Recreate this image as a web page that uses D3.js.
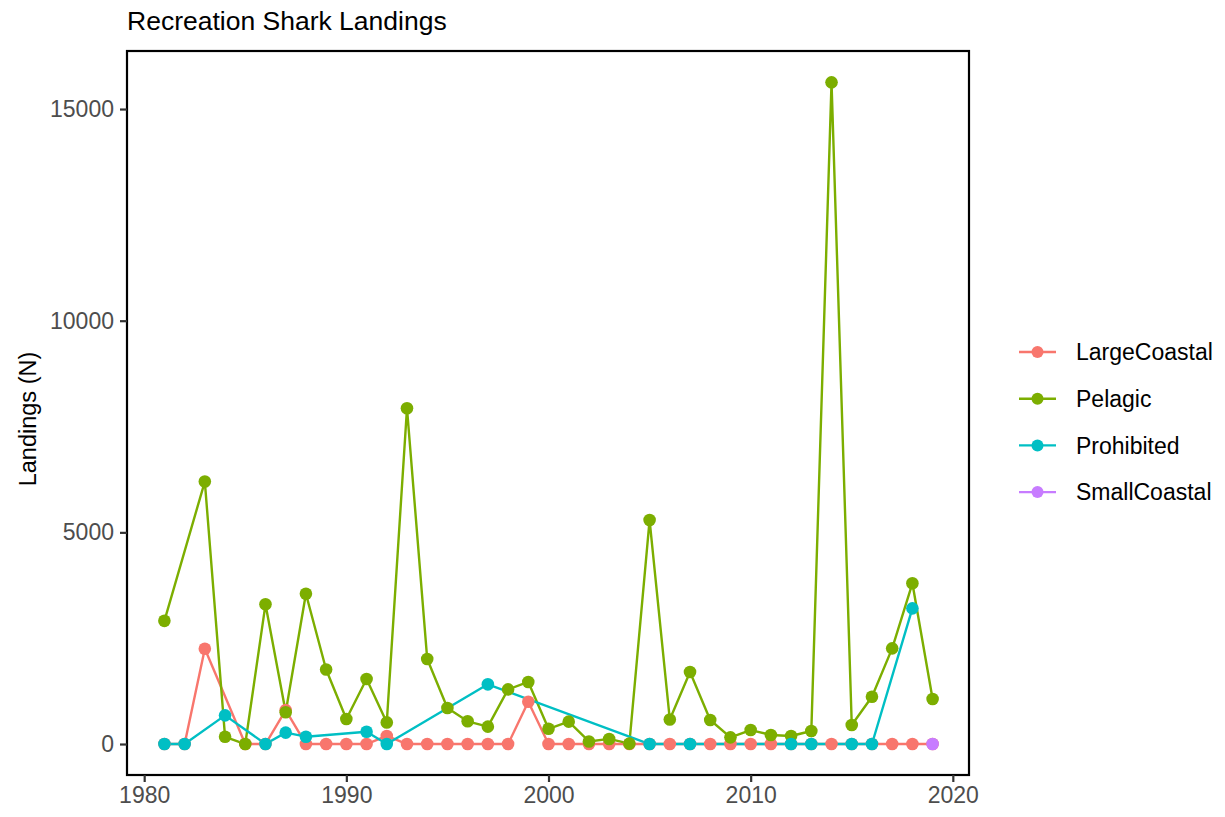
<!DOCTYPE html>
<html>
<head>
<meta charset="utf-8">
<script src="https://cdn.jsdelivr.net/npm/d3@7"></script>
<style>
  html, body { margin: 0; padding: 0; background: #ffffff; }
  svg { display: block; font-family: "Liberation Sans", Arial, Helvetica, sans-serif; }
</style>
</head>
<body>
<svg id="chart" width="1225" height="817"></svg>
<script>
// ---- Data ----
const seriesNames = ["LargeCoastal", "Pelagic", "Prohibited", "SmallCoastal"];
const seriesColors = ["#F8766D", "#7CAE00", "#00BFC4", "#C77CFF"];

const largeCoastalYears = [1981,1982,1983,1985,1986,1987,1988,1989,1990,1991,1992,1993,1994,1995,1996,1997,1998,1999,2000,2001,2002,2003,2004,2005,2006,2007,2008,2009,2010,2011,2012,2013,2014,2015,2016,2017,2018,2019];
const largeCoastalValues = [0,0,2250,0,0,800,0,0,0,0,190,0,0,0,0,0,0,1000,0,0,0,0,0,0,0,0,0,0,0,0,0,0,0,0,0,0,0,0];

const pelagicYears = [1981,1983,1984,1985,1986,1987,1988,1989,1990,1991,1992,1993,1994,1995,1996,1997,1998,1999,2000,2001,2002,2003,2004,2005,2006,2007,2008,2009,2010,2011,2012,2013,2014,2015,2016,2017,2018,2019];
const pelagicValues = [2910,6200,170,0,3300,750,3550,1760,590,1535,510,7930,2010,850,536,410,1290,1465,360,528,60,120,10,5290,580,1700,567,157,330,213,189,307,15630,449,1118,2260,3796,1063];

const prohibitedYears = [1981,1982,1984,1986,1987,1988,1991,1992,1997,2005,2007,2012,2013,2015,2016,2018];
const prohibitedValues = [0,0,677,0,268,173,291,0,1410,0,0,0,0,0,0,3205];

const smallCoastalYears = [2019];
const smallCoastalValues = [0];

const xTicks = [1980, 1990, 2000, 2010, 2020];
const yTicks = [0, 5000, 10000, 15000];

const titleText = "Recreation Shark Landings";
const yLabel = "Landings (N)";

// ---- Build series ----
const series = [
  {name: seriesNames[0], color: seriesColors[0], pts: largeCoastalYears.map((y,i)=>({x:y, v:largeCoastalValues[i]}))},
  {name: seriesNames[1], color: seriesColors[1], pts: pelagicYears.map((y,i)=>({x:y, v:pelagicValues[i]}))},
  {name: seriesNames[2], color: seriesColors[2], pts: prohibitedYears.map((y,i)=>({x:y, v:prohibitedValues[i]}))},
  {name: seriesNames[3], color: seriesColors[3], pts: smallCoastalYears.map((y,i)=>({x:y, v:smallCoastalValues[i]}))}
];

// ---- Layout ----
const panel = {left: 127, right: 969, top: 51, bottom: 775};
const svg = d3.select("#chart");
svg.append("rect").attr("width", 1225).attr("height", 817).attr("fill", "#ffffff");

const x = d3.scaleLinear().domain([1979.15, 2020.8]).range([panel.left, panel.right]);
const y = d3.scaleLinear().domain([-732, 16371]).range([panel.bottom, panel.top]);

svg.append("clipPath").attr("id", "clip").append("rect")
  .attr("x", panel.left).attr("y", panel.top)
  .attr("width", panel.right - panel.left).attr("height", panel.bottom - panel.top);

const plot = svg.append("g").attr("clip-path", "url(#clip)");

const line = d3.line().x(d => x(d.x)).y(d => y(d.v));

// lines first
series.forEach(s => {
  if (s.pts.length > 1) {
    plot.append("path").datum(s.pts)
      .attr("d", line)
      .attr("fill", "none")
      .attr("stroke", s.color)
      .attr("stroke-width", 2.4)
      .attr("stroke-linejoin", "round")
      .attr("stroke-linecap", "butt");
  }
});
// points
series.forEach(s => {
  plot.selectAll(null).data(s.pts).enter().append("circle")
    .attr("cx", d => x(d.x)).attr("cy", d => y(d.v))
    .attr("r", 6.3).attr("fill", s.color);
});

// panel border
svg.append("rect")
  .attr("x", panel.left).attr("y", panel.top)
  .attr("width", panel.right - panel.left).attr("height", panel.bottom - panel.top)
  .attr("fill", "none").attr("stroke", "#000000").attr("stroke-width", 2.2);

// axes
const xAxis = d3.axisBottom(x).tickValues(xTicks).tickFormat(d3.format("d")).tickSize(7).tickPadding(5);
const gx = svg.append("g").attr("transform", `translate(0,${panel.bottom})`).call(xAxis);
gx.select(".domain").remove();
gx.selectAll(".tick line").attr("stroke", "#333333").attr("stroke-width", 2.2);
gx.selectAll(".tick text").attr("fill", "#4D4D4D").attr("font-size", 23)
  .attr("font-family", "Liberation Sans, Arial, sans-serif");

const yAxis = d3.axisLeft(y).tickValues(yTicks).tickFormat(d3.format("d")).tickSize(7).tickPadding(6);
const gy = svg.append("g").attr("transform", `translate(${panel.left},0)`).call(yAxis);
gy.select(".domain").remove();
gy.selectAll(".tick line").attr("stroke", "#333333").attr("stroke-width", 2.2);
gy.selectAll(".tick text").attr("fill", "#4D4D4D").attr("font-size", 23)
  .attr("font-family", "Liberation Sans, Arial, sans-serif");

// title
svg.append("text").attr("x", 127).attr("y", 30)
  .attr("font-size", 26.5).attr("fill", "#000000").text(titleText);

// y label
svg.append("text")
  .attr("transform", `translate(36,419) rotate(-90)`)
  .attr("text-anchor", "middle")
  .attr("font-size", 23.5).attr("fill", "#000000").text(yLabel);

// legend
const legend = svg.append("g");
const legY0 = 352, legStep = 46.7;
series.forEach((s, i) => {
  const g = legend.append("g").attr("transform", `translate(0,${legY0 + i * legStep})`);
  g.append("line").attr("x1", 1019).attr("x2", 1056).attr("y1", 0).attr("y2", 0)
    .attr("stroke", s.color).attr("stroke-width", 2.4);
  g.append("circle").attr("cx", 1037.5).attr("cy", 0).attr("r", 6).attr("fill", s.color);
  g.append("text").attr("x", 1076).attr("y", 0).attr("dy", "0.36em")
    .attr("font-size", 23).attr("fill", "#000000").text(s.name);
});
</script>
</body>
</html>
